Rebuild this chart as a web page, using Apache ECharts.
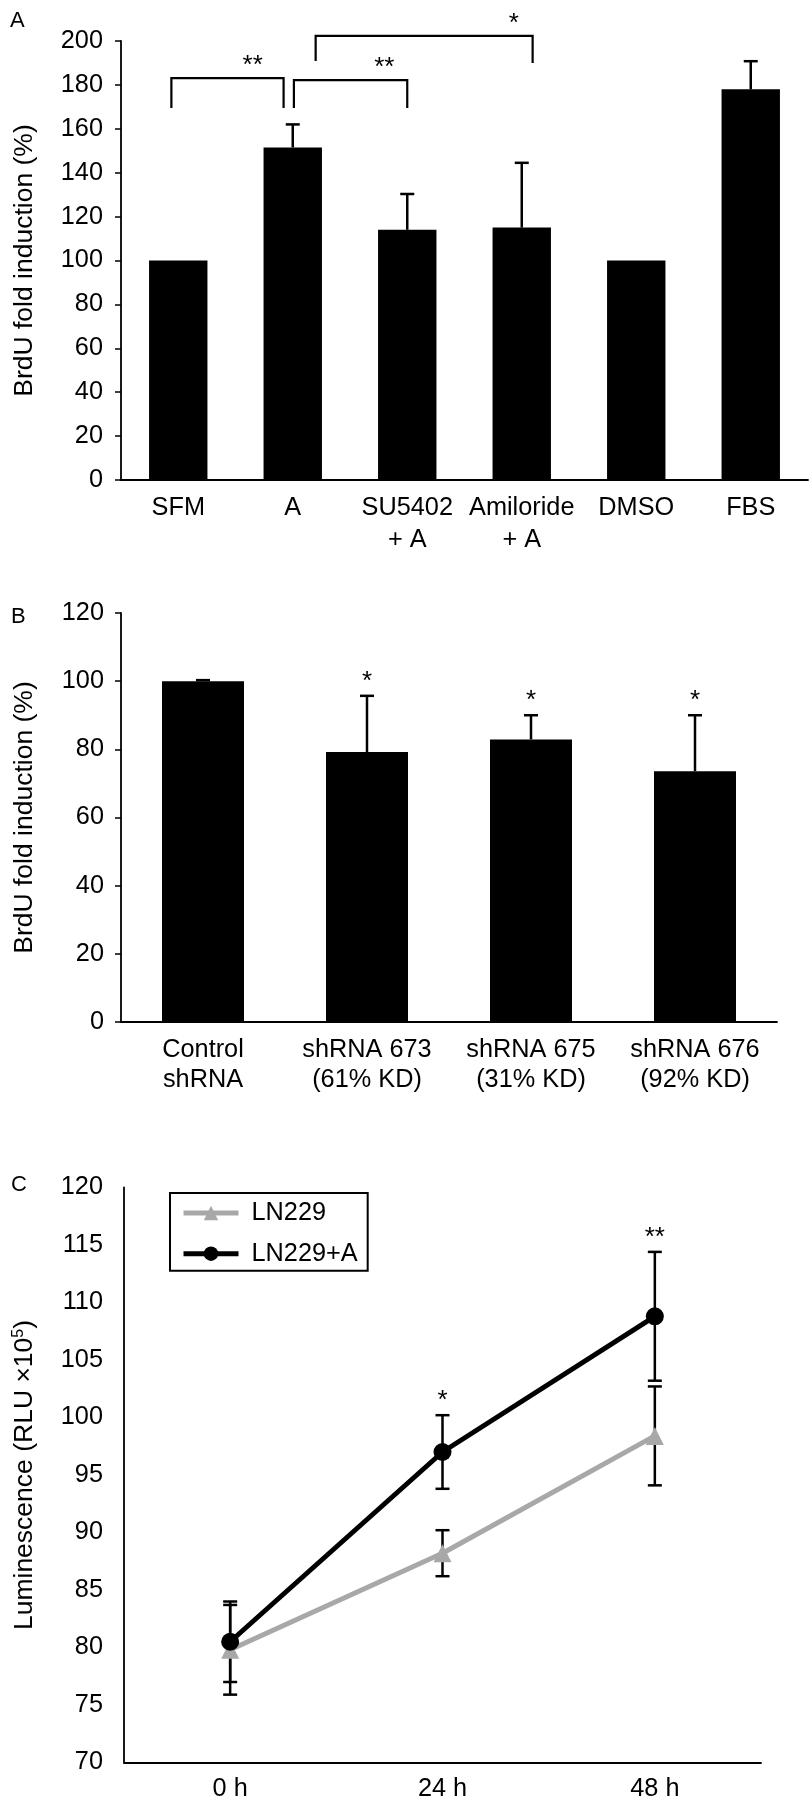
<!DOCTYPE html>
<html><head><meta charset="utf-8">
<script src="https://cdn.jsdelivr.net/npm/echarts@6/dist/echarts.min.js"></script>
<style>html,body{margin:0;padding:0;background:#fff}#c{width:812px;height:1805px}</style>
</head><body><div id="c"></div>
<script>
// ---------- Panel A ----------
const catsA = ['SFM', 'A', 'SU5402\n+ A', 'Amiloride\n+ A', 'DMSO', 'FBS'];
const valsA = [100, 151.5, 114, 115, 100, 178];
const errsA = [0, 10.5, 16.3, 29.5, 0, 12.8];
// brackets: [fromCat, toCat, topValue, leftLegEnd, rightLegEnd, starCat]
const bracketsA = [
  [-0.06, 0.92, 183.1, 169.5, 169.5, 0.65],
  [1.01, 2.0, 182.2, 169.5, 169.5, 1.80],
  [1.2, 3.095, 202.3, 190.9, 190.0, 2.93]
];
const bracketStarsA = ['**', '**', '*'];

// ---------- Panel B ----------
const catsB = ['Control\nshRNA', 'shRNA 673\n(61% KD)', 'shRNA 675\n(31% KD)', 'shRNA 676\n(92% KD)'];
const valsB = [100, 79.2, 82.9, 73.6];
const errsB = [0.3, 16.5, 7.1, 16.4];
const starsB = ['', '*', '*', '*'];

// ---------- Panel C ----------
const catsC = ['0 h', '24 h', '48 h'];
const ln229 = [79.8, 88.2, 98.4];
const ln229Err = [3.9, 2.0, 4.3];
const ln229A = [80.5, 97.0, 108.8];
const ln229AErr = [3.5, 3.2, 5.6];
const starsC = ['', '*', '**'];

const FONT = '"Liberation Sans", Arial, Helvetica, sans-serif';
const FS = 25.3;
const TFS = 26.5;

function errRenderer(valArr, errArr, both, stars, capW) {
  return function (params, api) {
    const i = params.dataIndex;
    const v = valArr[i], e = errArr[i];
    const children = [];
    const hi = api.coord([i, v + e]);
    const st = { stroke: '#000', lineWidth: 2.5 };
    if (e > 0) {
      const lo = api.coord([i, both ? v - e : v]);
      children.push({ type: 'line', shape: { x1: hi[0], y1: hi[1], x2: lo[0], y2: lo[1] }, style: st });
      children.push({ type: 'line', shape: { x1: hi[0] - capW / 2, y1: hi[1], x2: hi[0] + capW / 2, y2: hi[1] }, style: st });
      if (both) children.push({ type: 'line', shape: { x1: lo[0] - capW / 2, y1: lo[1], x2: lo[0] + capW / 2, y2: lo[1] }, style: st });
    }
    if (stars && stars[i]) {
      children.push({ type: 'text', style: { text: stars[i], x: hi[0], y: hi[1] - 14, align: 'center', verticalAlign: 'middle', fontSize: 26, fontFamily: FONT, fill: '#000' } });
    }
    return { type: 'group', children };
  };
}

function catPt(api, x, yv) {
  const i = Math.round(x);
  const p = api.coord([i, yv]);
  const bw = api.size([1, 0])[0];
  return [p[0] + (x - i) * bw, p[1]];
}

function bracketRenderer(params, api) {
  const b = bracketsA[params.dataIndex];
  const tl = catPt(api, b[0], b[2]);
  const tr = catPt(api, b[1], b[2]);
  const bl = catPt(api, b[0], b[3]);
  const br = catPt(api, b[1], b[4]);
  const sp = catPt(api, b[5], b[2]);
  return {
    type: 'group', children: [
      { type: 'polyline', shape: { points: [bl, tl, tr, br] }, style: { stroke: '#000', lineWidth: 2.2, fill: null } },
      { type: 'text', style: { text: bracketStarsA[params.dataIndex], x: sp[0], y: sp[1] - 12, align: 'center', verticalAlign: 'middle', fontSize: 26, fontFamily: FONT, fill: '#000' } }
    ]
  };
}

const axisLineStyle = { lineStyle: { color: '#000', width: 1.8 } };
const labelStyle = { color: '#000', fontSize: FS, fontFamily: FONT };
const nameStyle = { color: '#000', fontSize: TFS, fontFamily: FONT };

const option = {
  animation: false,
  backgroundColor: '#fff',
  textStyle: { fontFamily: FONT },
  graphic: [
    { type: 'text', left: 10, top: 10, style: { text: 'A', fontSize: 22, fontFamily: FONT, fill: '#000' } },
    { type: 'text', left: 11, top: 606, style: { text: 'B', fontSize: 22, fontFamily: FONT, fill: '#000' } },
    { type: 'text', left: 11, top: 1174, style: { text: 'C', fontSize: 22, fontFamily: FONT, fill: '#000' } }
  ],
  legend: {
    data: ['LN229', 'LN229+A'],
    orient: 'vertical',
    left: 170, top: 1193,
    borderColor: '#000', borderWidth: 2,
    padding: [6, 10, 3, 11],
    itemWidth: 55, itemHeight: 18, itemGap: 12.7,
    lineStyle: { width: 5 },
    textStyle: { color: '#000', fontSize: FS, fontFamily: FONT, lineHeight: 28, padding: [0, 0, 0, 8] }
  },
  grid: [
    { left: 121, top: 41, width: 687, height: 439 },
    { left: 121, top: 613, width: 656, height: 409 },
    { left: 124, top: 1187.5, width: 637, height: 579.5 }
  ],
  xAxis: [
    { gridIndex: 0, type: 'category', data: catsA, axisLine: axisLineStyle, axisTick: { show: false },
      axisLabel: Object.assign({ margin: 12.5, lineHeight: 32, interval: 0 }, labelStyle) },
    { gridIndex: 1, type: 'category', data: catsB, axisLine: axisLineStyle, axisTick: { show: false },
      axisLabel: Object.assign({ margin: 13, lineHeight: 30, interval: 0 }, labelStyle) },
    { gridIndex: 2, type: 'category', data: catsC, axisLine: axisLineStyle, axisTick: { show: false },
      axisLabel: Object.assign({ margin: 11.5, lineHeight: 31, interval: 0 }, labelStyle) }
  ],
  yAxis: [
    { gridIndex: 0, type: 'value', min: 0, max: 200, interval: 20,
      name: 'BrdU fold induction (%)', nameLocation: 'middle', nameGap: 83,
      nameTextStyle: nameStyle,
      axisLine: Object.assign({ show: true }, axisLineStyle), axisTick: { show: true, length: 6, lineStyle: { color: '#000', width: 1.5 } },
      splitLine: { show: false }, axisLabel: Object.assign({ margin: 18 }, labelStyle) },
    { gridIndex: 1, type: 'value', min: 0, max: 120, interval: 20,
      name: 'BrdU fold induction (%)', nameLocation: 'middle', nameGap: 83,
      nameTextStyle: nameStyle,
      axisLine: Object.assign({ show: true }, axisLineStyle), axisTick: { show: true, length: 6, lineStyle: { color: '#000', width: 1.5 } },
      splitLine: { show: false }, axisLabel: Object.assign({ margin: 17 }, labelStyle) },
    { gridIndex: 2, type: 'value', min: 70, max: 120, interval: 5,
      name: 'Luminescence (RLU \u00d710{sup|5})', nameLocation: 'middle', nameGap: 86,
      nameTextStyle: Object.assign({
        rich: { sup: { fontSize: 16, verticalAlign: 'top', fontFamily: FONT, color: '#000' } } }, nameStyle),
      axisLine: Object.assign({ show: true }, axisLineStyle), axisTick: { show: false },
      splitLine: { show: false }, axisLabel: Object.assign({ margin: 21 }, labelStyle) }
  ],
  series: [
    { type: 'bar', xAxisIndex: 0, yAxisIndex: 0, data: valsA, barWidth: '51%', itemStyle: { color: '#000' }, z: 2 },
    { type: 'custom', xAxisIndex: 0, yAxisIndex: 0, data: valsA.map((v, i) => [i, v]), encode: { x: 0, y: 1 },
      renderItem: errRenderer(valsA, errsA, false, null, 14), z: 3, clip: false },
    { type: 'custom', xAxisIndex: 0, yAxisIndex: 0, data: bracketsA.map((b, i) => [i, b[2]]), encode: { x: 0, y: 1 },
      renderItem: bracketRenderer, z: 4, clip: false },

    { type: 'bar', xAxisIndex: 1, yAxisIndex: 1, data: valsB, barWidth: '50%', itemStyle: { color: '#000' }, z: 2 },
    { type: 'custom', xAxisIndex: 1, yAxisIndex: 1, data: valsB.map((v, i) => [i, v]), encode: { x: 0, y: 1 },
      renderItem: errRenderer(valsB, errsB, false, starsB, 14), z: 3, clip: false },

    { type: 'custom', xAxisIndex: 2, yAxisIndex: 2, data: ln229.map((v, i) => [i, v]), encode: { x: 0, y: 1 },
      renderItem: errRenderer(ln229, ln229Err, true, null, 14), z: 1, clip: false },
    { type: 'custom', xAxisIndex: 2, yAxisIndex: 2, data: ln229A.map((v, i) => [i, v]), encode: { x: 0, y: 1 },
      renderItem: errRenderer(ln229A, ln229AErr, true, starsC, 14), z: 1, clip: false },
    { name: 'LN229', type: 'line', xAxisIndex: 2, yAxisIndex: 2, data: ln229,
      symbol: 'triangle', symbolSize: 18, lineStyle: { color: '#a8a8a8', width: 5 },
      itemStyle: { color: '#a8a8a8' }, z: 2 },
    { name: 'LN229+A', type: 'line', xAxisIndex: 2, yAxisIndex: 2, data: ln229A,
      symbol: 'circle', symbolSize: 18, lineStyle: { color: '#000', width: 5 },
      itemStyle: { color: '#000' }, z: 3 }
  ]
};
const chart = echarts.init(document.getElementById('c'));
chart.setOption(option);
</script></body></html>
